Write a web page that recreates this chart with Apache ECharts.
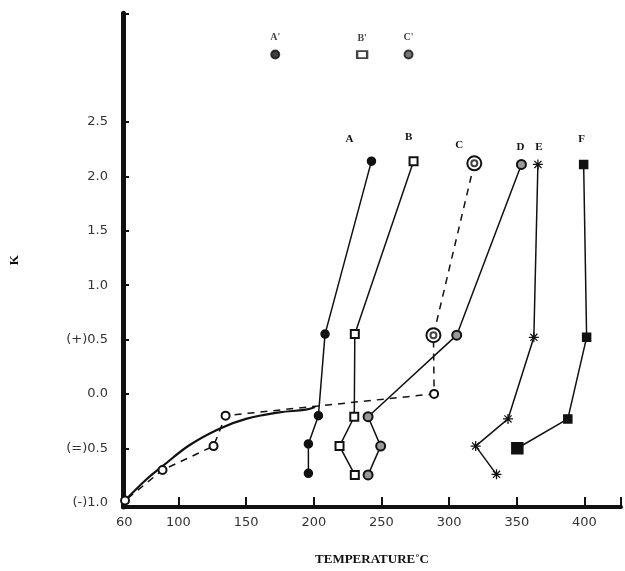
<!DOCTYPE html>
<html>
<head>
<meta charset="utf-8">
<script src="https://cdn.jsdelivr.net/npm/echarts@6/dist/echarts.min.js"></script>
<style>
html,body{margin:0;padding:0;background:#fff;overflow:hidden;}
#chart{width:625px;height:571px;}
</style>
</head>
<body>
<div id="chart"></div>
<script>
// ---- data ----
const tempTicks = [60, 100, 150, 200, 250, 300, 350, 400];
const kTicks = [-1, -0.5, 0, 0.5, 1, 1.5, 2, 2.5];
const kTickLabels = ['(-)1.0', '(=)0.5', '0.0', '(+)0.5', '1.0', '1.5', '2.0', '2.5'];
const seriesNames = ['A', 'B', 'C', 'D', 'E', 'F'];

const seriesA = [[242.6, 2.14], [208.3, 0.55], [203.4, -0.20], [196, -0.46], [196, -0.73]];
const seriesB = [[273.7, 2.14], [230.3, 0.55], [229.9, -0.21], [219, -0.48], [230.3, -0.745]];
const seriesC = [[318.6, 2.12], [288.4, 0.54], [288.9, 0.0], [134.8, -0.20], [125.9, -0.48], [88.2, -0.70], [60.5, -0.98]];
const seriesD = [[353.4, 2.11], [305.6, 0.54], [240.1, -0.21], [249.4, -0.48], [240.1, -0.745]];
const seriesE = [[365.6, 2.11], [362.6, 0.52], [343.5, -0.23], [319.6, -0.48], [335, -0.74]];
const seriesF = [[399.4, 2.11], [401.6, 0.52], [387.7, -0.23], [350.4, -0.50]];
const curveSolid = [[60.5, -0.98], [76.4, -0.785], [88.7, -0.66], [108.3, -0.47], [130.3, -0.32], [149.9, -0.23], [174.5, -0.17], [194, -0.145], [201, -0.12]];
const primeNames = ["A'", "B'", "C'"];
const primePoints = [[171.5, 3.12], [235.7, 3.12], [270, 3.12]];

// ---- chart ----
const H = window.innerHeight > 200 ? window.innerHeight : 571;
const el = document.getElementById('chart');
el.style.height = H + 'px';
const chart = echarts.init(el, null, {renderer: 'canvas', width: 625, height: H});
const ink = '#111';
const tickFont = {fontFamily: 'DejaVu Sans', fontSize: 13, color: '#333'};
const nameFont = {fontFamily: 'Liberation Serif', fontWeight: 'bold', fontSize: 11, color: ink};

const asterisk = 'path://M-1,-8L1,-8L1,8L-1,8Z M-8,-1L8,-1L8,1L-8,1Z M-6.4,-5L-5,-6.4L6.4,5L5,6.4Z M5,-6.4L6.4,-5L-5,6.4L-6.4,5Z';

function nameLabel(idx, offset) {
  return {
    show: true, position: 'inside', offset: offset,
    formatter: p => p.dataIndex === 0 ? seriesNames[idx] : '',
    ...nameFont
  };
}

function lineSeries(idx, data, extra) {
  return Object.assign({
    type: 'line', name: seriesNames[idx], data: data,
    lineStyle: {color: ink, width: 1.5},
    itemStyle: {color: ink, borderColor: ink, borderWidth: 1.5},
    symbolSize: 8, z: 3
  }, extra);
}

const option = {
  backgroundColor: '#fff',
  animation: false,
  grid: {left: 120, right: 4, top: 13.25, bottom: H - 515, containLabel: false},
  xAxis: {
    type: 'value', min: 59, max: 427,
    name: 'TEMPERATURE˚C', nameLocation: 'middle', nameGap: 46,
    nameTextStyle: {fontFamily: 'Liberation Serif', fontWeight: 'bold', fontSize: 13, color: ink},
    axisLine: {show: true, onZero: false, lineStyle: {color: ink, width: 4}},
    axisTick: {show: true, inside: true, length: 10, lineStyle: {color: ink, width: 2},
      customValues: tempTicks.concat([427])},
    axisLabel: {show: true, margin: 9, customValues: tempTicks, ...tickFont},
    splitLine: {show: false}
  },
  yAxis: {
    type: 'value', min: -1.04, max: 3.5,
    name: 'K', nameLocation: 'middle', nameGap: 102, nameRotate: 90,
    nameTextStyle: {fontFamily: 'Liberation Serif', fontWeight: 'bold', fontSize: 13, color: ink},
    axisLine: {show: true, onZero: false, lineStyle: {color: ink, width: 5}},
    axisTick: {show: true, inside: true, length: 6, lineStyle: {color: ink, width: 2},
      customValues: kTicks.concat([3.5])},
    axisLabel: {show: true, margin: 15, customValues: kTicks,
      formatter: v => { const i = kTicks.findIndex(t => Math.abs(t - v) < 1e-6); return i >= 0 ? kTickLabels[i] : ''; },
      ...tickFont},
    splitLine: {show: false}
  },
  series: [
    {
      type: 'line', name: 'curve', data: curveSolid, smooth: 0.4, showSymbol: false, symbol: 'none',
      lineStyle: {color: ink, width: 2.2}, z: 2
    },
    lineSeries(0, seriesA, {symbol: 'circle', label: nameLabel(0, [-22, -22])}),
    lineSeries(1, seriesB, {symbol: 'rect', symbolSize: 8,
      itemStyle: {color: '#fff', borderColor: ink, borderWidth: 2}, label: nameLabel(1, [-5, -24])}),
    lineSeries(2, seriesC, {symbol: 'emptyCircle',
      symbolSize: (v, p) => p.dataIndex < 2 ? 14 : 8,
      lineStyle: {color: ink, width: 1.5, type: [7, 6]},
      itemStyle: {color: ink, borderColor: ink, borderWidth: 1.5},
      label: nameLabel(2, [-15, -18])}),
    {
      type: 'scatter', name: 'C-inner', data: seriesC.slice(0, 2), symbol: 'emptyCircle', symbolSize: 6,
      itemStyle: {color: ink, borderColor: ink, borderWidth: 1.5}, z: 4
    },
    lineSeries(3, seriesD, {symbol: 'circle', symbolSize: 9,
      itemStyle: {color: '#999', borderColor: ink, borderWidth: 2}, label: nameLabel(3, [-1, -17])}),
    lineSeries(4, seriesE, {symbol: asterisk, symbolSize: 10,
      itemStyle: {color: ink}, label: nameLabel(4, [1, -17])}),
    lineSeries(5, seriesF, {symbol: 'rect',
      symbolSize: (v, p) => p.dataIndex === 3 ? 11 : 8,
      label: nameLabel(5, [-2, -25])}),
    {
      type: 'scatter', name: 'primes', data: primePoints, z: 4,
      symbol: (v, p) => ['circle', 'rect', 'circle'][p.dataIndex],
      symbolSize: (v, p) => p.dataIndex === 1 ? [10, 7] : 8,
      itemStyle: {
        color: p => ['#111', '#fff', '#555'][p.dataIndex],
        borderColor: ink, borderWidth: 2
      },
      label: {show: true, position: 'top', distance: 7,
        formatter: p => primeNames[p.dataIndex], ...nameFont, fontSize: 10}
    }
  ]
};
chart.setOption(option);
</script>
</body>
</html>
